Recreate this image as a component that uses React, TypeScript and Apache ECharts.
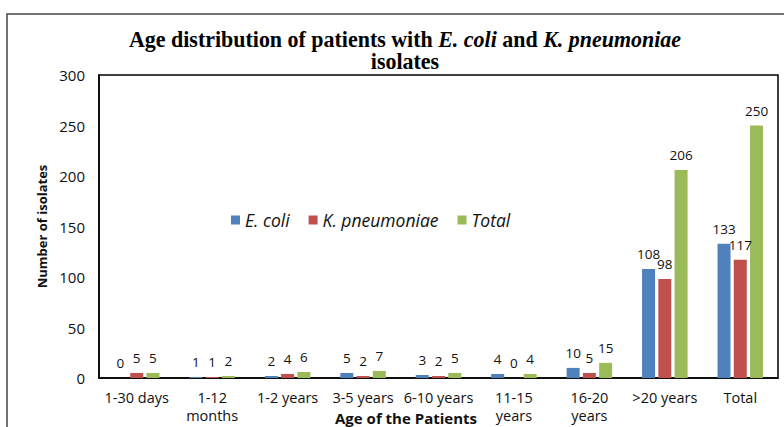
import React, { useEffect, useRef } from "react";
import * as echarts from "echarts";

const categories = ["1-30 days", "1-12\nmonths", "1-2 years", "3-5 years", "6-10 years", "11-15\nyears", "16-20\nyears", ">20 years", "Total"];
const eColi = [0, 1, 2, 5, 3, 4, 10, 108, 133];
const kPneumoniae = [5, 1, 4, 2, 2, 0, 5, 98, 117];
const totals = [5, 2, 6, 7, 5, 4, 15, 206, 250];
const yTicks = { min: 0, max: 300, interval: 50 };

const FONT = "Open Sans, sans-serif";
const SERIF = "Liberation Serif, serif";

export default function App() {
  const ref = useRef<HTMLDivElement>(null);
  useEffect(() => {
    document.body.style.margin = "0";
    const chart = echarts.init(ref.current!, null, { renderer: "svg" });
    const label = {
      show: true,
      position: "top" as const,
      distance: 8,
      color: "#111",
      fontFamily: FONT,
      fontSize: 13.5,
    };
    const mkSeries = (name: string, data: number[], color: string) => ({
      name,
      type: "bar" as const,
      data,
      barWidth: 13,
      barGap: "25%",
      itemStyle: { color },
      label,
    });
    const titleStyle = {
      fontFamily: SERIF,
      fontWeight: "bold" as const,
      fontSize: 24,
      fill: "#000",
      lineHeight: 22,
    };
    chart.setOption({
      animation: false,
      backgroundColor: "#fff",
      legend: {
        left: 226,
        top: 206,
        itemWidth: 9,
        itemHeight: 9,
        itemGap: 19,
        icon: "rect",
        textStyle: { fontFamily: FONT, fontStyle: "italic", fontSize: 17.5, color: "#111" },
        data: ["E. coli", "K. pneumoniae", "Total"],
      },
      grid: {
        left: 99,
        top: 75,
        right: 6,
        bottom: 49,
        show: true,
        borderColor: "#000",
        borderWidth: 1.5,
      },
      xAxis: {
        type: "category",
        data: categories,
        axisLine: { lineStyle: { color: "#000", width: 1.5 } },
        axisTick: { show: false },
        axisLabel: {
          fontFamily: FONT,
          fontSize: 14.5,
          color: "#111",
          margin: 10,
          lineHeight: 18,
          interval: 0,
        },
      },
      yAxis: {
        type: "value",
        min: yTicks.min,
        max: yTicks.max,
        interval: yTicks.interval,
        splitLine: { show: false },
        axisLine: { show: true, lineStyle: { color: "#000", width: 1.5 } },
        axisTick: { show: false },
        axisLabel: { fontFamily: FONT, fontSize: 15, color: "#111", margin: 14 },
        name: "Number of isolates",
        nameLocation: "middle",
        nameGap: 49,
        nameTextStyle: { fontFamily: FONT, fontWeight: "bold", fontSize: 13, color: "#111" },
      },
      graphic: [
        {
          type: "rect",
          shape: { x: 7, y: 14, width: 820, height: 500 },
          style: { fill: "none", stroke: "#444", lineWidth: 1.5 },
          silent: true,
        },
        {
          type: "text",
          x: 405,
          y: 50,
          scaleX: 0.915,
          style: {
            text: "{b|Age distribution of patients with }{i|E. coli}{b| and }{i|K. pneumoniae}\n{b|isolates}",
            ...titleStyle,
            align: "center",
            verticalAlign: "middle",
            rich: {
              b: { ...titleStyle },
              i: { ...titleStyle, fontStyle: "italic" },
            },
          },
        },
        {
          type: "text",
          x: 406,
          y: 418,
          style: {
            text: "Age of the Patients",
            fontFamily: FONT,
            fontWeight: "bold",
            fontSize: 15,
            fill: "#111",
            align: "center",
            verticalAlign: "middle",
          },
        },
      ],
      series: [
        mkSeries("E. coli", eColi, "#4F81BD"),
        mkSeries("K. pneumoniae", kPneumoniae, "#C0504D"),
        mkSeries("Total", totals, "#9BBB59"),
      ],
    });
    return () => chart.dispose();
  }, []);
  return <div ref={ref} style={{ width: 784, height: 427 }} />;
}
